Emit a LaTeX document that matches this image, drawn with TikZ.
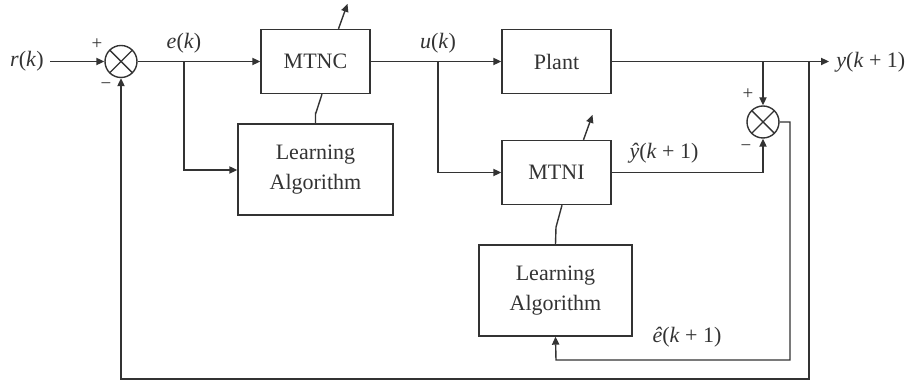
\documentclass[tikz,border=0pt]{standalone}
\usepackage{fontspec}
\setmainfont{Liberation Serif}
\usetikzlibrary{arrows.meta,calc}
\definecolor{ink}{HTML}{333333}
\begin{document}
\begin{tikzpicture}[x=0.5pt,y=-0.5pt,
  every node/.style={text=ink, font=\fontsize{11}{15}\selectfont},
  line/.style={draw=ink, line width=0.7pt},
  arr/.style={line, -{Triangle[length=4pt,width=3.6pt]}},
  block/.style={line, rectangle, inner sep=0pt, align=center},
  sumjct/.style={line, circle, inner sep=0pt, minimum size=16pt,
    path picture={\draw[ink, line width=0.7pt]
      (path picture bounding box.south west) -- (path picture bounding box.north east)
      (path picture bounding box.north west) -- (path picture bounding box.south east);}},
  sign/.style={font=\fontsize{9.5}{10}\selectfont, inner sep=0pt}]
\useasboundingbox (0,0) rectangle (907,383);

% blocks
\node[block, minimum width=54.5pt, minimum height=32pt] (mtnc) at (315.5,61.5) {MTNC};
\node[block, minimum width=77.5pt, minimum height=45.5pt] (la1) at (315.5,169.5) {Learning\\Algorithm};
\node[block, minimum width=54.5pt, minimum height=32pt] (plant) at (556.5,61.5) {Plant};
\node[block, minimum width=54.5pt, minimum height=32pt] (mtni) at (556.5,172.5) {MTNI};
\node[block, minimum width=76.5pt, minimum height=45.5pt] (la2) at (555.5,290.5) {Learning\\Algorithm};

% summing junctions
\node[sumjct] (s1) at (121,61.5) {};
\node[sumjct] (s2) at (763,122) {};

% signals and labels
\node[anchor=east, inner sep=0pt] (rk) at (44,61.5) {\textit{r}(\textit{k})};
\node (ek) at (184,43) {\textit{e}(\textit{k})};
\node (uk) at (438,43) {\textit{u}(\textit{k})};
\node[anchor=west, inner sep=0pt] (yk) at (836,62) {\textit{y}(\textit{k} + 1)};
\node (yhat) at (664,153) {\textit{ŷ}(\textit{k} + 1)};
\node (ehat) at (687,337) {\textit{ê}(\textit{k} + 1)};
\node[sign] (p1) at (97,44) {+};
\node[sign] (m1) at (106,86) {\textminus};
\node[sign] (p2) at (748,94) {+};
\node[sign] (m2) at (746,148) {\textminus};

% branch points and corners
\coordinate (eb) at (184,61.5);
\coordinate (ub) at (438,61.5);
\coordinate (yb) at (763,61.5);
\coordinate (fb) at (809,61.5);
\coordinate (yend) at (829,61.5);

% forward path
\draw[arr] (rk.east) ++(6,0) -- (s1.west);
\draw[arr] (s1.east) -- (mtnc.west);
\draw[arr] (eb) |- (la1.west |- 0,170);
\draw[line] (mtnc.east) -- (ub);
\draw[arr] (ub) -- (plant.west);
\draw[arr] (ub) |- (mtni.west);
\draw[arr] (plant.east) -- (yend);

% adaptation links
\draw[line] ([xshift=3.25pt]mtnc.south) -- ++(-6.5,20) -- ($(la1.north)+(0,-11)$) -- (la1.north);
\draw[line] ([xshift=2.75pt]mtni.south) -- ++(-6,22) -- (la2.north);
\draw[arr] ([xshift=11.5pt]mtnc.north) -- ++(9,-25);
\draw[arr] ([xshift=13.5pt]mtni.north) -- ++(9,-25);

% identifier error
\draw[arr] (yb) -- (s2.north);
\draw[arr] (mtni.east) -| (s2.south);
\draw[arr] (s2.east) -- (790,122) |- (556,360) -- (la2.south);

% output feedback
\draw[arr] (fb) -- (809,379) -| (s1.south);
\end{tikzpicture}
\end{document}
